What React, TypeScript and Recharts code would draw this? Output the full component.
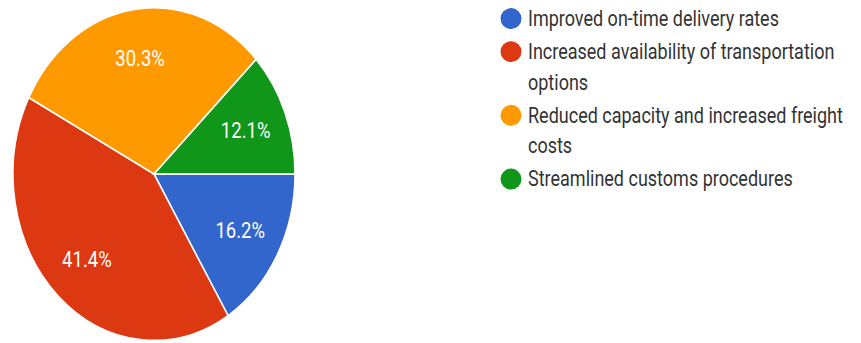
import { PieChart, Pie, Cell, Legend } from "recharts";

const categories = [
  "Improved on-time delivery rates",
  "Increased availability of transportation options",
  "Reduced capacity and increased freight costs",
  "Streamlined customs procedures",
];
const shares = [16.2, 41.4, 30.3, 12.1];
const colors = ["#3366CC", "#DC3912", "#FF9900", "#109618"];

const data = categories.map((name, i) => ({ name, value: shares[i] }));

// the reference image is stretched vertically
const STRETCH = 1.18;
const RADIAN = Math.PI / 180;

const renderLabel = (props: any) => {
  const { cx, cy, midAngle, outerRadius, value } = props;
  const r = outerRadius * 0.7;
  const x = cx + r * Math.cos(-midAngle * RADIAN);
  const y = cy + r * Math.sin(-midAngle * RADIAN);
  return (
    <text
      x={x}
      y={y}
      fill="#FFFFFF"
      fontSize={18.5}
      fontFamily="Roboto"
      textAnchor="middle"
      dominantBaseline="central"
    >
      {value}%
    </text>
  );
};

const renderLegend = () => (
  <div style={{ fontFamily: "Roboto", fontSize: 18, color: "#333" }}>
    {categories.map((c, i) => (
      <div
        key={c}
        style={{ display: "flex", alignItems: "flex-start", marginBottom: 3 }}
      >
        <svg width={22} height={25.5} style={{ flex: "none", marginRight: 6 }}>
          <ellipse
            cx={11}
            cy={12.75}
            rx={10.5}
            ry={10.5 / STRETCH}
            fill={colors[i]}
          />
        </svg>
        <div style={{ width: 330, lineHeight: "25.5px" }}>{c}</div>
      </div>
    ))}
  </div>
);

export default function App() {
  const h = 343 / STRETCH;
  return (
    <div
      style={{
        position: "absolute",
        left: 0,
        top: 0,
        width: 861,
        height: h,
        transform: `scaleY(${STRETCH})`,
        transformOrigin: "0 0",
        background: "#fff",
      }}
    >
      <PieChart width={861} height={h} margin={{ top: 0, right: 0, bottom: 0, left: 0 }}>
        <Pie
          data={data}
          dataKey="value"
          nameKey="name"
          cx={154}
          cy={147.5}
          outerRadius={141}
          startAngle={0}
          endAngle={-360}
          stroke="#FFFFFF"
          strokeWidth={1.5}
          labelLine={false}
          label={renderLabel}
          isAnimationActive={false}
        >
          {data.map((d, i) => (
            <Cell key={d.name} fill={colors[i]} />
          ))}
        </Pie>
        <Legend
          content={renderLegend}
          layout="vertical"
          wrapperStyle={{ position: "absolute", left: 500, top: 2.5, width: 361 }}
        />
      </PieChart>
    </div>
  );
}
